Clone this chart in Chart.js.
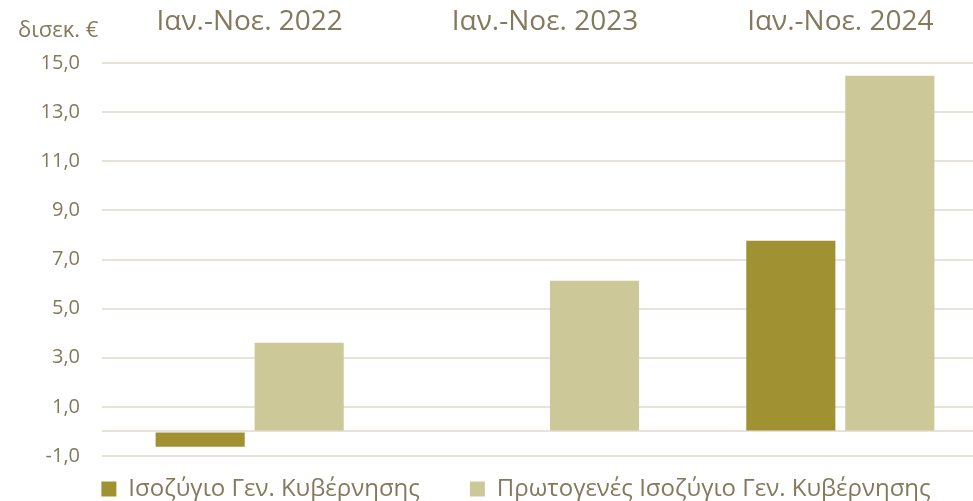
<!DOCTYPE html>
<html>
<head>
<meta charset="utf-8">
<script src="https://cdn.jsdelivr.net/npm/chart.js@4"></script>
<style>
  body { margin: 0; background: #fff; }
</style>
</head>
<body>
<canvas id="balanceChart" width="973" height="501"></canvas>
<script>
// periods shown on top of the chart
const periods = ['Ιαν.-Νοε. 2022', 'Ιαν.-Νοε. 2023', 'Ιαν.-Νοε. 2024'];

// bn euro
const generalBalance = [-0.62, -0.04, 7.76];
const primaryBalance = [3.61, 6.13, 14.48];

const seriesNames = ['Ισοζύγιο Γεν. Κυβέρνησης', 'Πρωτογενές Ισοζύγιο Γεν. Κυβέρνησης'];
const yTicks = [-1, 0, 1, 3, 5, 7, 9, 11, 13, 15];
const unitLabel = 'δισεκ. €';

const textColor = '#84795c';
const gridColor = '#e7e3d9';
const fontName = "'Open Sans', sans-serif";

// unit text at the top left corner
const unitPlugin = {
    id: 'unitLabel',
    afterDraw(chart) {
        const ctx = chart.ctx;
        ctx.save();
        ctx.fillStyle = textColor;
        ctx.font = '22px ' + fontName;
        ctx.textAlign = 'left';
        ctx.textBaseline = 'middle';
        ctx.fillText(unitLabel, 18, 31);
        ctx.restore();
    }
};

// the original plot runs a bit past the right edge of the picture,
// so stretch the category axis 15px beyond the canvas.
// The legend also needs a wide gap between items, but its padding
// pushes the row down, so move the legend box back up after layout
const layoutPlugin = {
    id: 'layoutTweaks',
    afterLayout(chart) {
        const x = chart.scales.x;
        x.right = chart.width + 15;
        x.width = x.right - x.left;
        x.configure();

        const lg = chart.legend;
        lg.top -= 29;
        lg.bottom -= 29;
        lg.left += 12;
        lg.right += 12;
    }
};

let ctx = document.getElementById('balanceChart').getContext('2d');

let balanceChart = new Chart(ctx, {
    type: 'bar',
    data: {
        labels: periods,
        datasets: [{
            label: seriesNames[0],
            data: generalBalance,
            backgroundColor: '#a09232'
        }, {
            label: seriesNames[1],
            data: primaryBalance,
            backgroundColor: '#cdc898'
        }]
    },
    options: {
        responsive: false,
        animation: false,
        categoryPercentage: 0.6705,
        barPercentage: 0.9,
        layout: {
            padding: { left: 20, right: -15, top: 0, bottom: -39 }
        },
        scales: {
            x: {
                position: 'top',
                grid: { display: false, drawTicks: false },
                border: { display: false },
                ticks: {
                    color: textColor,
                    font: { family: fontName, size: 28 },
                    padding: 24,
                    maxRotation: 0
                },
                afterFit(axis) { axis.height = 63; }
            },
            y: {
                min: -1,
                max: 15,
                afterBuildTicks(axis) {
                    axis.ticks = yTicks.map(v => ({ value: v }));
                },
                afterFit(axis) { axis.width = 82; },
                grid: { color: gridColor, lineWidth: 2, drawTicks: false },
                border: { display: false },
                ticks: {
                    color: textColor,
                    font: { family: fontName, size: 20 },
                    padding: 22,
                    callback: v => v === 0 ? '' : v.toFixed(1).replace('.', ',')
                }
            }
        },
        plugins: {
            legend: {
                position: 'bottom',
                align: 'center',
                labels: {
                    color: textColor,
                    font: { family: fontName, size: 24 },
                    boxWidth: 15,
                    boxHeight: 15,
                    padding: 50
                }
            },
            tooltip: { enabled: false }
        }
    },
    plugins: [unitPlugin, layoutPlugin]
});
</script>
</body>
</html>
